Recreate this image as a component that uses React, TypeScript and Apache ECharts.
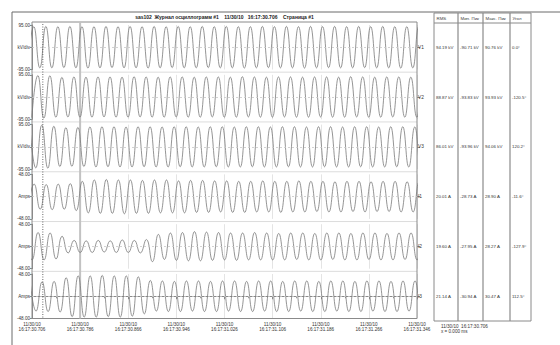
import React, { useEffect, useRef } from 'react';
import * as echarts from 'echarts';

// ---- data ----
const channels = ['V1', 'V2', 'V3', 'I1', 'I2', 'I3'];
const units = ['kV/div', 'kV/div', 'kV/div', 'Amps', 'Amps', 'Amps'];
const ranges = [95, 95, 95, 48, 48, 48];
// time (ms) of the first extremum of each trace; extrema follow every half period
const firstExtremumMs = [-7, -0.3, -3.7, -6.4, -9.9, -3.25];
const halfPeriodMs = 10;
const totalMs = 640;
const tickMs = 80;
const cursorMs = 18;
const markerMs = 80;

const v1 = [-87, 88, -88, 89, -88, 88, -87, 89, -88, 88, -89, 88, -88, 89, -87, 88, -88, 89, -88, 88, -89, 89, -88, 88, -87, 89, -88, 88, -88, 89, -87, 88, -88, 89, -88, 88, -89, 88, -88, 89, -87, 88, -88, 89, -88, 88, -89, 89, -88, 88, -87, 89, -88, 88, -88, 89, -87, 88, -88, 89, -88, 88, -89, 88, -88, 89, -87, 88];
const v2 = [-88, 92, -90, 91, -86, 84, -85, 86, -86, 85, -86, 86, -85, 86, -86, 85, -86, 87, -85, 86, -86, 85, -86, 86, -85, 86, -86, 85, -86, 86, -85, 86, -86, 85, -86, 87, -85, 86, -86, 85, -86, 86, -85, 86, -86, 85, -86, 86, -85, 86, -86, 85, -86, 87, -85, 86, -86, 85, -86, 86, -85, 86, -86, 85, -86, 86, -85, 86];
const v3 = [92, -90, 93, -91, 88, -84, 82, -83, 83, -84, 85, -86, 86, -85, 86, -86, 85, -86, 86, -85, 86, -86, 85, -86, 86, -85, 86, -86, 85, -86, 86, -85, 86, -86, 85, -86, 86, -85, 86, -86, 85, -86, 86, -85, 86, -86, 85, -86, 86, -85, 86, -86, 85, -86, 86, -85, 86, -86, 85, -86, 86, -85, 86, -86, 85, -86, 86, -85];
const i1 = [-26, 27, -27, 26, -28, 27, -27, 28, -30, 33, -35, 36, -36, 37, -36, 36, -37, 36, -36, 35, -36, 36, -35, 36, -35, 34, -35, 35, -34, 35, -34, 34, -33, 34, -34, 33, -34, 33, -33, 34, -33, 33, -34, 33, -33, 34, -33, 33, -32, 33, -33, 32, -33, 33, -32, 33, -33, 32, -32, 33, -32, 33, -33, 32, -33, 32, -32, 33];
const i2 = [29, -29, 30, -29, 29, -27, 22, -14, 13, -13, 12, -13, 13, -12, 12, -13, 14, -13, 13, -14, 15, -33, 26, -28, 29, -30, 30, -31, 32, -31, 31, -30, 30, -29, 29, -30, 29, -29, 30, -29, 29, -29, 28, -29, 29, -28, 29, -29, 28, -29, 29, -28, 29, -29, 28, -29, 29, -28, 29, -29, 28, -29, 29, -28, 29, -29, 28, -29];
const i3 = [33, -32, 31, -33, 32, -34, 40, -44, 44, -45, 44, -45, 45, -44, 44, -45, 44, -43, 42, -38, 34, -32, 33, -33, 32, -33, 33, -32, 33, -33, 32, -33, 33, -32, 33, -33, 32, -33, 33, -32, 33, -33, 32, -33, 33, -32, 33, -33, 32, -33, 33, -32, 33, -33, 32, -33, 33, -32, 33, -33, 32, -33, 33, -32, 33, -33, 32, -33];
const waves = [v1, v2, v3, i1, i2, i3];

const dateLabel = '11/30/10';
const timeTicks = ['16:17:30.706', '16:17:30.786', '16:17:30.866', '16:17:30.946', '16:17:31.026', '16:17:31.106', '16:17:31.186', '16:17:31.266', '16:17:31.346'];
const titleText = 'sas102  Журнал осциллограмм #1    11/30/10   16:17:30.706    Страница #1';

const tableHeader = ['RMS', 'Мин. Пик', 'Макс. Пик', 'Угол'];
const rmsVals = ['94.19 kV', '88.87 kV', '86.01 kV', '20.01 A', '19.60 A', '21.14 A'];
const minVals = ['-90.71 kV', '-93.83 kV', '-93.96 kV', '-28.73 A', '-27.95 A', '-30.94 A'];
const maxVals = ['90.76 kV', '93.93 kV', '94.06 kV', '28.90 A', '28.27 A', '30.47 A'];
const angleVals = ['0.0°', '-120.5°', '120.2°', '-11.6°', '-127.9°', '112.5°'];
const footer = ['11/30/10  16:17:30.706', 'x = 0.000 ms'];

// ---- layout ----
const W = 560;
const H = 345;
const PLOT_L = 32;
const PLOT_W = 385;
const PANEL_TOP = 25;
const PANEL_STEP = 49.8;
const PANEL_H = 44.5;
const FRAME_TOP = 22;
const TABLE_X = [434, 458, 483, 510, 531];
const TABLE_TOP = 13;
const TABLE_HEAD = 23;
const TABLE_BOTTOM = 321;
const FONT = 'Liberation Sans, Arial, sans-serif';
const WAVE_COLOR = '#7a7a7a';

export default function App() {
  const ref = useRef<HTMLDivElement>(null);

  useEffect(() => {
    document.body.style.margin = '0';
    const chart = echarts.init(ref.current!, null, { renderer: 'svg' });
    const n = channels.length;
    const grid: any[] = [];
    const xAxis: any[] = [];
    const yAxis: any[] = [];
    const series: any[] = [];

    for (let i = 0; i < n; i++) {
      const top = PANEL_TOP + PANEL_STEP * i;
      const last = i === n - 1;
      grid.push({ left: PLOT_L, top, width: PLOT_W, height: PANEL_H });
      xAxis.push({
        type: 'value',
        gridIndex: i,
        min: 0,
        max: totalMs,
        interval: tickMs,
        axisLine: { show: last, lineStyle: { color: '#8a8a8a', width: 1 } },
        axisTick: { show: last, length: 3, lineStyle: { color: '#8a8a8a' } },
        minorTick: { show: last, splitNumber: 2, length: 2, lineStyle: { color: '#9a9a9a' } },
        axisLabel: {
          show: last,
          fontSize: 4.6,
          lineHeight: 5.6,
          color: '#333',
          margin: 3,
          fontFamily: FONT,
          formatter: (v: number) => `${dateLabel}\n${timeTicks[Math.round(v / tickMs)]}`,
        },
        splitLine: { show: true, lineStyle: { color: '#e4e4e4', width: 1 } },
      });
      yAxis.push({
        type: 'value',
        gridIndex: i,
        position: 'left',
        min: -ranges[i],
        max: ranges[i],
        interval: ranges[i],
        axisLine: { show: true, lineStyle: { color: '#8a8a8a' } },
        axisTick: { show: true, length: 2, lineStyle: { color: '#8a8a8a' } },
        axisLabel: {
          fontSize: 4.6,
          color: '#333',
          margin: 2,
          fontFamily: FONT,
          formatter: (v: number) => (v === 0 ? units[i] : v.toFixed(2)),
        },
        splitLine: { show: false },
      });
      yAxis.push({
        type: 'value',
        gridIndex: i,
        position: 'right',
        min: -ranges[i],
        max: ranges[i],
        interval: ranges[i],
        axisLine: { show: false },
        axisTick: { show: true, length: 3, customValues: [0], lineStyle: { color: '#8a8a8a' } },
        axisLabel: {
          fontSize: 4.8,
          color: '#333',
          margin: 1,
          fontFamily: FONT,
          customValues: [0],
          formatter: () => channels[i],
        },
        splitLine: { show: false },
      });
      series.push({
        type: 'line',
        name: channels[i],
        xAxisIndex: i,
        yAxisIndex: 2 * i,
        data: waves[i].map((v, k) => [firstExtremumMs[i] + k * halfPeriodMs, v]),
        showSymbol: false,
        smooth: 0.5,
        clip: true,
        lineStyle: { color: WAVE_COLOR, width: 0.8 },
        markLine: {
          silent: true,
          symbol: ['none', 'none'],
          label: { show: false },
          data: [{ yAxis: 0, lineStyle: { type: [2, 2], color: '#c8c8c8', width: 0.8 } }],
        },
      });
    }

    chart.setOption({
      animation: false,
      textStyle: { fontFamily: FONT },
      grid,
      xAxis,
      yAxis,
      series,
    });

    const cursorX = chart.convertToPixel({ xAxisIndex: 0 }, cursorMs) as number;
    const markerX = chart.convertToPixel({ xAxisIndex: 0 }, markerMs) as number;
    const plotBottom = PANEL_TOP + PANEL_STEP * (n - 1) + PANEL_H;

    const graphics: any[] = [];
    // outer page frame
    graphics.push({ type: 'line', shape: { x1: 12, y1: 12, x2: W, y2: 12 }, style: { stroke: '#6a6a6a', lineWidth: 1 } });
    graphics.push({ type: 'line', shape: { x1: 12, y1: 12, x2: 12, y2: H }, style: { stroke: '#6a6a6a', lineWidth: 1 } });
    // plot frame
    graphics.push({
      type: 'rect',
      shape: { x: PLOT_L, y: FRAME_TOP, width: PLOT_W, height: plotBottom - FRAME_TOP },
      style: { fill: 'none', stroke: '#8a8a8a', lineWidth: 1 },
      z: 1,
    });
    // separators between panels
    for (let i = 1; i < n; i++) {
      const y = PANEL_TOP + PANEL_STEP * i - (PANEL_STEP - PANEL_H) / 2;
      graphics.push({ type: 'line', shape: { x1: PLOT_L, y1: y, x2: PLOT_L + PLOT_W, y2: y }, style: { stroke: '#dcdcdc', lineWidth: 1 } });
    }
    // marker & cursor lines
    graphics.push({ type: 'line', shape: { x1: markerX, y1: FRAME_TOP, x2: markerX, y2: plotBottom }, style: { stroke: '#c2c2c2', lineWidth: 2 }, z: 2 });
    graphics.push({ type: 'line', shape: { x1: cursorX, y1: FRAME_TOP + 2, x2: cursorX, y2: plotBottom }, style: { stroke: '#404040', lineWidth: 0.8, lineDash: [1, 1.5] }, z: 20 });
    // title
    graphics.push({
      type: 'text',
      x: PLOT_L + PLOT_W / 2,
      y: 16.5,
      style: { text: titleText, fontSize: 5, fontWeight: 'bold', fill: '#222', align: 'center', verticalAlign: 'middle', fontFamily: FONT },
    });
    // table
    graphics.push({
      type: 'rect',
      shape: { x: TABLE_X[0], y: TABLE_TOP, width: TABLE_X[4] - TABLE_X[0], height: TABLE_BOTTOM - TABLE_TOP },
      style: { fill: '#fff', stroke: '#8a8a8a', lineWidth: 1 },
    });
    graphics.push({ type: 'line', shape: { x1: TABLE_X[0], y1: TABLE_HEAD, x2: TABLE_X[4], y2: TABLE_HEAD }, style: { stroke: '#8a8a8a', lineWidth: 1 } });
    for (let c = 1; c < 4; c++) {
      graphics.push({ type: 'line', shape: { x1: TABLE_X[c], y1: TABLE_TOP, x2: TABLE_X[c], y2: TABLE_BOTTOM }, style: { stroke: '#8a8a8a', lineWidth: 1.2 } });
    }
    tableHeader.forEach((t, c) => {
      graphics.push({
        type: 'text',
        x: TABLE_X[c] + 2.5,
        y: (TABLE_TOP + TABLE_HEAD) / 2,
        style: { text: t, fontSize: 4.4, fill: '#444', align: 'left', verticalAlign: 'middle', fontFamily: FONT },
        z: 5,
      });
    });
    const cols = [rmsVals, minVals, maxVals, angleVals];
    for (let i = 0; i < n; i++) {
      const y = PANEL_TOP + PANEL_STEP * i + PANEL_H / 2;
      cols.forEach((col, c) => {
        graphics.push({
          type: 'text',
          x: TABLE_X[c] + 2,
          y,
          style: { text: col[i], fontSize: 4.4, fill: '#333', align: 'left', verticalAlign: 'middle', fontFamily: FONT },
          z: 5,
        });
      });
    }
    footer.forEach((t, k) => {
      graphics.push({
        type: 'text',
        x: 441,
        y: 326 + k * 5.5,
        style: { text: t, fontSize: 4.6, fill: '#333', align: 'left', verticalAlign: 'middle', fontFamily: FONT },
      });
    });

    chart.setOption({ graphic: graphics });

    return () => chart.dispose();
  }, []);

  return <div ref={ref} style={{ position: 'absolute', left: 0, top: 0, width: W, height: H, background: '#fff' }} />;
}
